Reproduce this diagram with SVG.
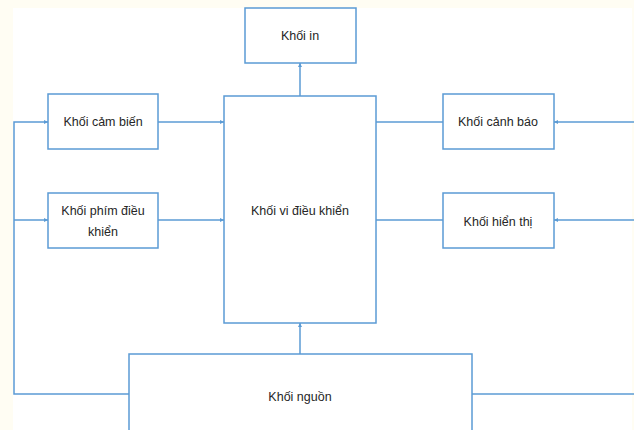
<svg xmlns="http://www.w3.org/2000/svg" width="634" height="430" viewBox="0 0 634 430">
<style>
.box{fill:#ffffff;stroke:#5b9bd5;stroke-width:1.5}
.ln{fill:none;stroke:#5b9bd5;stroke-width:1.5}
.t{font-family:"Liberation Sans","Noto Sans",Arial,sans-serif;font-size:12.5px;fill:#262626;text-anchor:middle}
</style>
<defs>
<marker id="ah" viewBox="0 0 6 6" refX="6" refY="3" markerWidth="4" markerHeight="4" orient="auto" markerUnits="userSpaceOnUse">
<path d="M0,0 L6,3 L0,6 z" fill="#5b9bd5"/>
</marker>
</defs>
<rect x="0" y="0" width="634" height="430" fill="#fffdf3"/>
<rect x="13" y="8" width="619" height="422" fill="#ffffff"/>
<g id="connectors">
<line class="ln" x1="300" y1="96" x2="300" y2="63" marker-end="url(#ah)"/>
<line class="ln" x1="300" y1="354" x2="300" y2="323" marker-end="url(#ah)"/>
<line class="ln" x1="158" y1="122" x2="224" y2="122" marker-end="url(#ah)"/>
<line class="ln" x1="158" y1="220" x2="224" y2="220" marker-end="url(#ah)"/>
<line class="ln" x1="376" y1="122" x2="443" y2="122"/>
<line class="ln" x1="376" y1="220" x2="443" y2="220"/>
<polyline class="ln" points="129,394 14,394 14,122 48,122" marker-end="url(#ah)"/>
<line class="ln" x1="14" y1="220" x2="48" y2="220" marker-end="url(#ah)"/>
<line class="ln" x1="634" y1="122" x2="554" y2="122" marker-end="url(#ah)"/>
<line class="ln" x1="634" y1="220" x2="554" y2="220" marker-end="url(#ah)"/>
<line class="ln" x1="472" y1="394" x2="634" y2="394"/>
</g>
<g id="khoi-in">
<rect class="box" x="245" y="8" width="111" height="55"/>
<text class="t" x="300" y="40">Khối in</text>
</g>
<g id="khoi-cam-bien">
<rect class="box" x="48" y="94" width="110" height="55"/>
<text class="t" x="103" y="126">Khối cảm biến</text>
</g>
<g id="khoi-phim">
<rect class="box" x="48" y="193" width="110" height="55"/>
<text class="t" x="103" y="215">Khối phím điều</text>
<text class="t" x="103" y="236">khiển</text>
</g>
<g id="khoi-vi-dieu-khien">
<rect class="box" x="224" y="96" width="152" height="227"/>
<text class="t" x="300" y="215">Khối vi điều khiển</text>
</g>
<g id="khoi-canh-bao">
<rect class="box" x="443" y="94" width="111" height="55"/>
<text class="t" x="498" y="126">Khối cảnh báo</text>
</g>
<g id="khoi-hien-thi">
<rect class="box" x="443" y="193" width="111" height="55"/>
<text class="t" x="498" y="226">Khối hiển thị</text>
</g>
<g id="khoi-nguon">
<rect class="box" x="129" y="354" width="343" height="80"/>
<text class="t" x="300" y="401">Khối nguồn</text>
</g>
</svg>
